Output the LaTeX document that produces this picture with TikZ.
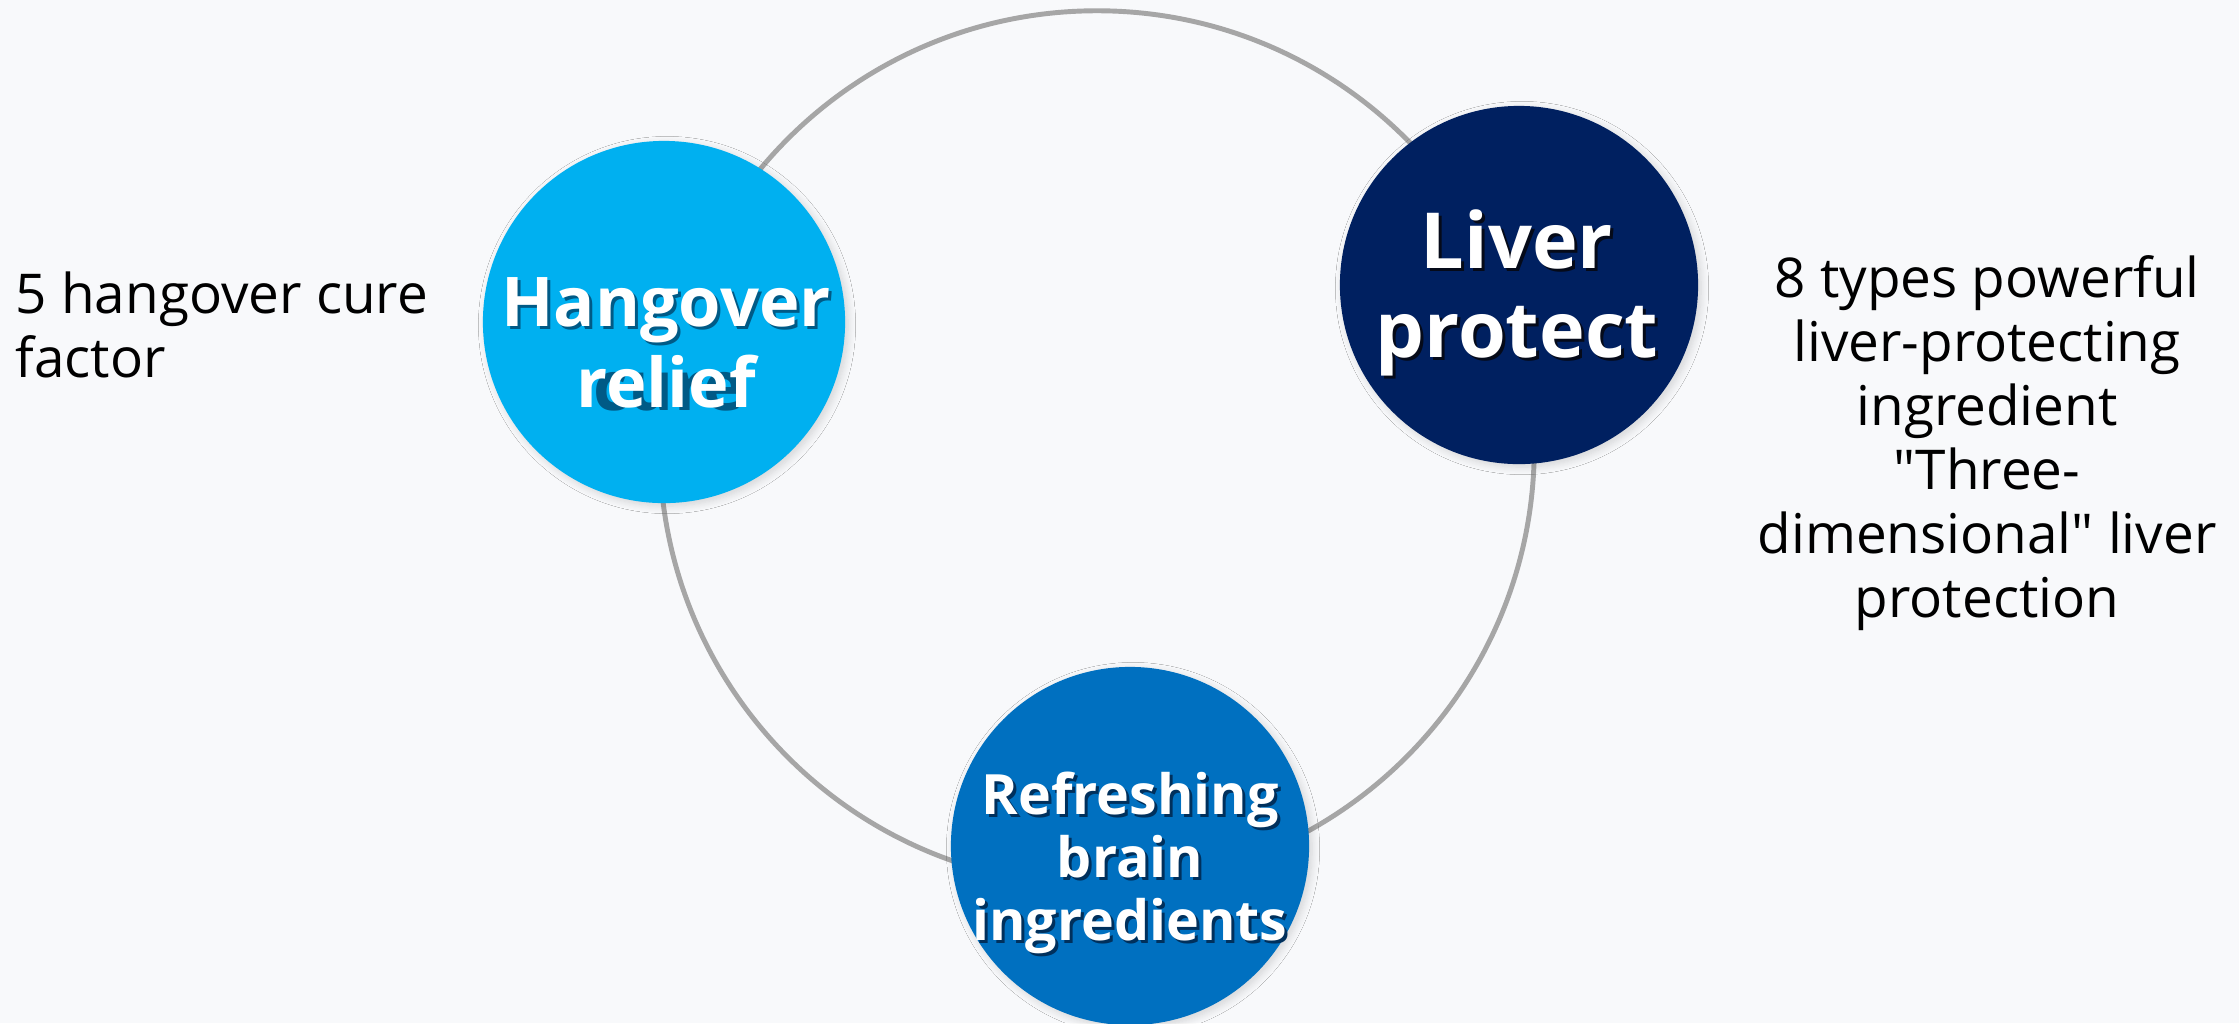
\documentclass[tikz,border=0pt]{standalone}
\usepackage{fontspec}
\setmainfont{Open Sans}
\usetikzlibrary{shadows.blur}
\definecolor{bgcol}{RGB}{248,249,251}
\definecolor{ringgray}{RGB}{166,166,166}
\definecolor{hangblue}{RGB}{0,176,240}
\definecolor{livernavy}{RGB}{0,32,96}
\definecolor{brainblue}{RGB}{0,112,192}
\definecolor{hangshade}{RGB}{0,90,134}
\definecolor{livershade}{RGB}{5,10,25}
\definecolor{brainshade}{RGB}{0,48,92}

\begin{document}
\begin{tikzpicture}[x=0.01cm, y=-0.01cm,
  ball/.style={circle, inner sep=0pt, minimum size=3.58cm,
    blur shadow={shadow blur steps=8, shadow xshift=0.3mm, shadow yshift=-0.3mm, shadow opacity=15}},
  label/.style={align=center, anchor=base, inner sep=0pt},
  side/.style={align=center, anchor=base, inner sep=0pt, font=\fontsize{15.6}{18.2}\selectfont}]
  \fill[bgcol] (0,0) rectangle (2239,1023);
  \useasboundingbox (0,0) rectangle (2239,1023);

  \node[circle, draw=ringgray, line width=1.4pt, inner sep=0pt, minimum size=8.74cm] (ring) at (1097,448) {};

  \node[ball, fill=hangblue, minimum size=3.62cm] (hang) at (664,322) {};
  \node[ball, fill=livernavy] (liver) at (1519,285) {};
  \node[ball, fill=brainblue] (brain) at (1130,846) {};

  % last line baselines
  \node[label, text=hangshade, font=\bfseries\fontsize{19.5}{22.8}\selectfont] (hangS) at (669,410) {Hangover\\cure};
  \node[label, text=white, font=\bfseries\fontsize{19.5}{22.8}\selectfont] (hangT) at (666,407) {Hangover\\relief};
  \node[label, text=livershade, font=\bfseries\fontsize{22}{25.3}\selectfont] (liverS) at (1520,360) {Liver\\protect};
  \node[label, text=white, font=\bfseries\fontsize{22}{25.3}\selectfont] (liverT) at (1517,357) {Liver\\protect};
  \node[label, text=brainshade, font=\bfseries\fontsize{15.8}{17.9}\selectfont] (brainS) at (1133,943) {Refreshing\\brain\\ingredients};
  \node[label, text=white, font=\bfseries\fontsize{15.8}{17.9}\selectfont] (brainT) at (1130,940) {Refreshing\\brain\\ingredients};

  \node[side, align=left, anchor=base west] (hangNote) at (15,377) {5 hangover cure\\factor};
  \node[side] (liverNote) at (1987,617) {8 types powerful\\liver-protecting\\ingredient\\\textquotedbl Three-\\dimensional\textquotedbl{} liver\\protection};
\end{tikzpicture}
\end{document}
